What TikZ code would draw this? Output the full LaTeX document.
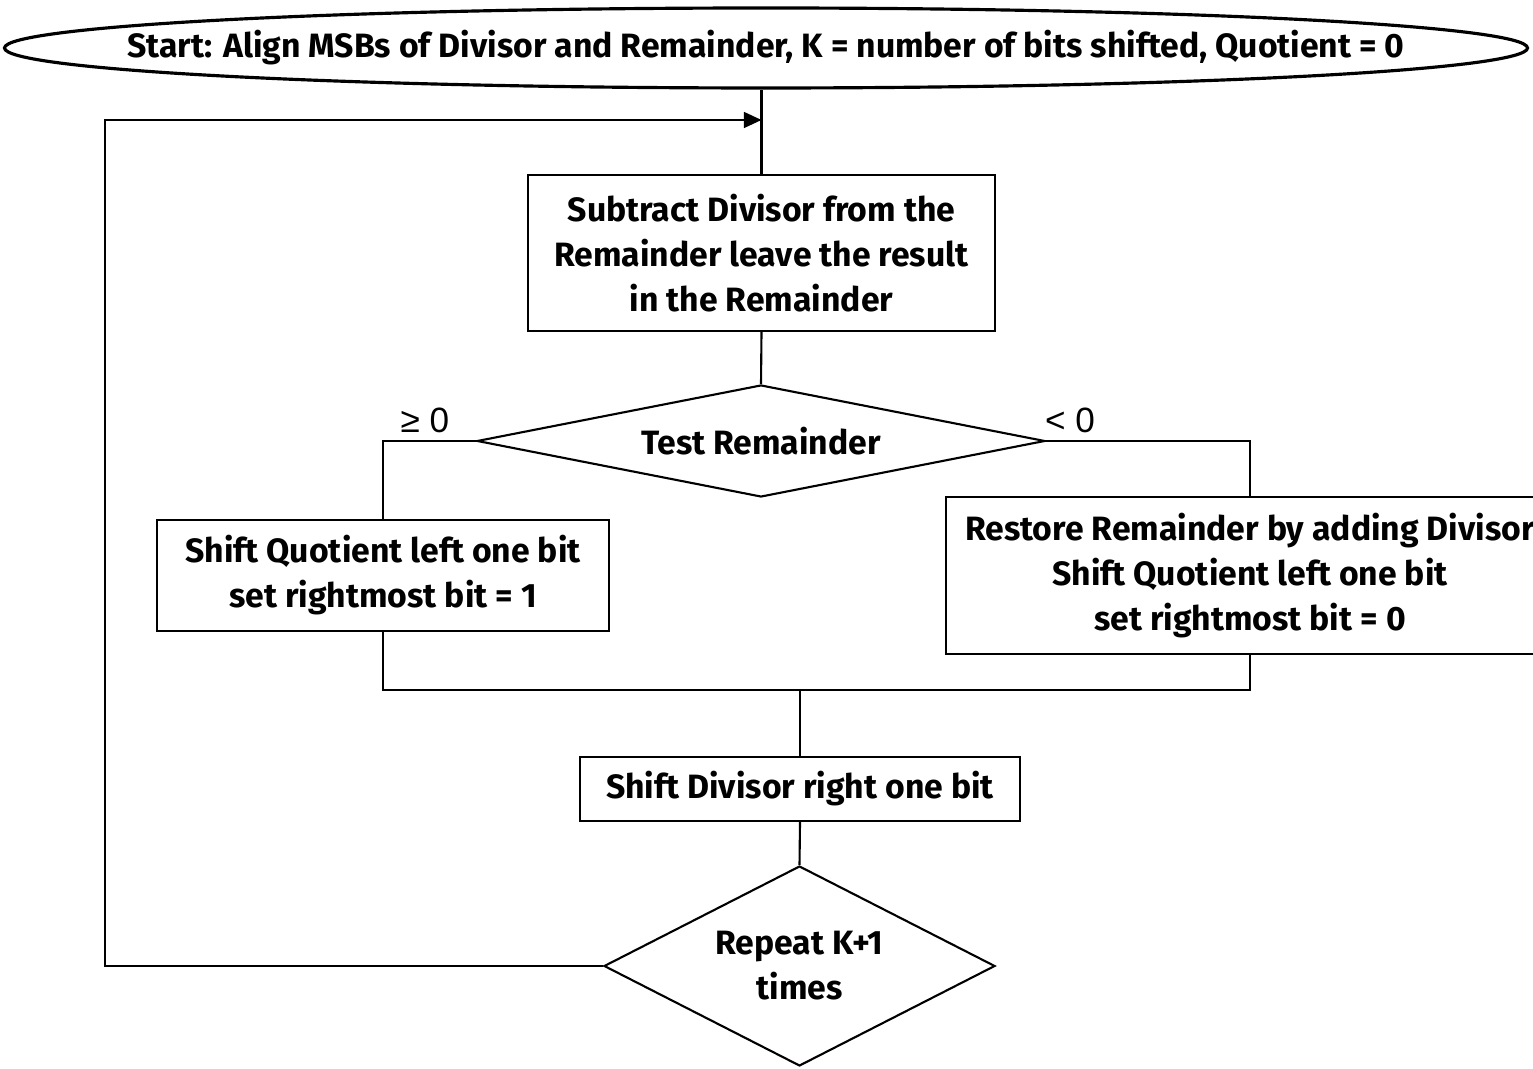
\documentclass[tikz,border=0pt]{standalone}
\usepackage{fontspec}
\setmainfont{Fira Sans}
\newfontfamily\signfont{Liberation Sans}
\usepackage{tikz}
\usetikzlibrary{arrows.meta, positioning, shapes.geometric, calc}
\tikzset{
  every picture/.style={font=\fontsize{9.6}{12.8}\selectfont\bfseries, line width=0.6pt},
  inicio/.style={draw, ellipse, line width=0.9pt, inner sep=0pt, minimum width=15.23cm, minimum height=0.8cm},
  paso/.style={draw, rectangle, inner sep=2pt, align=center},
  prueba/.style={draw, diamond, inner sep=0pt, align=center},
  signo/.style={font=\signfont\fontsize{10}{12}\selectfont, inner sep=1pt},
  linea/.style={line width=0.6pt},
  flecha/.style={-{Triangle[length=5pt, width=4.5pt]}, line width=0.6pt},
}
\begin{document}
\begin{tikzpicture}
  \useasboundingbox (0,0) rectangle (15.33,-10.69);
  \clip (0,0) rectangle (15.33,-10.69);
  \node[inicio, label=center:{Start: Align MSBs of Divisor and Remainder, K = number of bits shifted, Quotient = 0}] (S) at (7.66,-0.48) {};
  \node[paso, minimum width=4.67cm, minimum height=1.56cm] (SUB) at (7.615,-2.53) {Subtract Divisor from the\\Remainder leave the result\\in the Remainder};
  \node[prueba, aspect=5.07, minimum width=5.68cm, minimum height=1.12cm] (TR) at (7.61,-4.41) {Test Remainder};
  \node[paso, minimum width=4.52cm, minimum height=1.11cm] (SQ) at (3.83,-5.755) {Shift Quotient left one bit\\set rightmost bit = 1};
  \node[paso, minimum width=6.08cm, minimum height=1.57cm] (RR) at (12.5,-5.755) {Restore Remainder by adding Divisor\\Shift Quotient left one bit\\set rightmost bit = 0};
  \node[paso, minimum width=4.40cm, minimum height=0.64cm] (SD) at (8.00,-7.89) {Shift Divisor right one bit};
  \node[prueba, aspect=1.955, minimum width=3.91cm, minimum height=2.0cm] (RP) at (7.995,-9.66) {Repeat K+1\\times};
  \node[signo] (GE) at (4.25,-4.2) {≥ 0};
  \node[signo] (LT) at (10.7,-4.2) {< 0};
  \coordinate (J) at (8.00,-6.9);
  \coordinate (LP) at (1.05,-1.2);
  \draw[linea] (SUB.north |- S.south) -- (SUB.north); \draw[linea] (SUB.south) -- (TR.north);
  \draw[linea] (TR.west) -| (SQ.north); \draw[linea] (TR.east) -| (RR.north);
  \draw[linea] (SQ.south) |- (RR.south |- J) -- (RR.south); \draw[linea] (J) -- (SD.north);
  \draw[linea] (SD.south) -- (RP.north);
  \draw[flecha] (RP.west) -| (LP) -- (LP -| SUB.north);
\end{tikzpicture}
\end{document}
